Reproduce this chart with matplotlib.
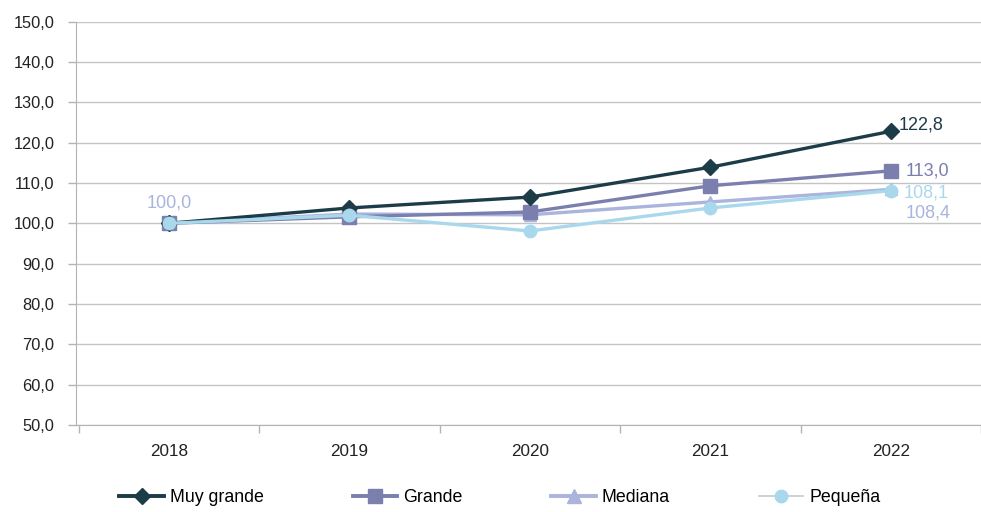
import matplotlib
matplotlib.use("Agg")
from matplotlib import pyplot as plt
from matplotlib.lines import Line2D

plt.rcParams['font.family'] = ['Liberation Sans', 'DejaVu Sans']

years = ['2018', '2019', '2020', '2021', '2022']
muy_grande = [100.0, 103.8, 106.5, 113.9, 122.8]
grande = [100.0, 101.6, 102.8, 109.3, 113.0]
mediana = [100.0, 102.3, 102.1, 105.3, 108.4]
pequena = [100.0, 102.0, 98.1, 103.8, 108.1]
labels = ['Muy grande', 'Grande', 'Mediana', 'Pequeña']

c_muy = '#1c3c47'
c_gra = '#7b7fae'
c_med = '#aab4dc'
c_peq = '#a9d8ed'
c_axis = '#b4b4b4'

figure = plt.figure(figsize=(9.81, 5.12), dpi=100)
axes = figure.add_axes([76/981, 1-425/512, (981-76)/981, (425-21.6)/512])

x = list(range(len(years)))
axes.plot(x, muy_grande, color=c_muy, lw=2.4, marker='D', ms=8.5, zorder=5)
axes.plot(x, grande, color=c_gra, lw=2.4, marker='s', ms=10, zorder=4)
axes.plot(x, mediana, color=c_med, lw=2.4, marker='^', ms=9, zorder=3)
axes.plot(x, pequena, color=c_peq, lw=2.4, marker='o', ms=9, zorder=6)

axes.set_xlim(-0.514, 4.434)
axes.set_ylim(50, 150)
axes.set_yticks(range(50, 151, 10))
axes.set_yticklabels([f"{v},0" for v in range(50, 151, 10)])
axes.set_xticks(x)
axes.set_xticklabels(years)
axes.set_xticks([i + 0.5 for i in range(-1, 5)], minor=True)
axes.tick_params(axis='x', which='major', length=0, pad=14, labelsize=12.3, labelcolor='#222222')
axes.tick_params(axis='x', which='minor', length=6, color=c_axis, width=1)
axes.tick_params(axis='y', length=6, color=c_axis, width=1, labelsize=11.8,
                 labelcolor='#222222', pad=9.4)
axes.grid(axis='y', color='#c4c4c4', lw=1)
axes.set_axisbelow(True)
for s in ['top', 'right']:
    axes.spines[s].set_visible(False)
axes.spines['left'].set_color(c_axis)
axes.spines['bottom'].set_color(c_axis)

fs = 13
axes.text(0.0, 105.0, "100,0", color=c_med, fontsize=fs, ha='center', va='center')
axes.text(4.046, 124.4, "122,8", color=c_muy, fontsize=fs, ha='left', va='center')
axes.text(4.084, 113.0, "113,0", color=c_gra, fontsize=fs, ha='left', va='center')
axes.text(4.073, 107.5, "108,1", color=c_peq, fontsize=fs, ha='left', va='center')
axes.text(4.084, 102.6, "108,4", color=c_med, fontsize=fs, ha='left', va='center')

handles = [
    Line2D([], [], color=c_muy, lw=2.8, marker='D', ms=8.5),
    Line2D([], [], color=c_gra, lw=2.8, marker='s', ms=10),
    Line2D([], [], color=c_med, lw=2.8, marker='^', ms=10),
    Line2D([], [], color='#c8c8c8', lw=1.2, marker='o', ms=9, mfc=c_peq, mec=c_peq),
]
figure.legend(handles, labels, loc='center', bbox_to_anchor=(500/981, 1-498/512),
              ncol=4, frameon=False, fontsize=12.8, handlelength=2.5,
              handletextpad=0.34, columnspacing=5.0)

figure.savefig('out.png', dpi=100)
